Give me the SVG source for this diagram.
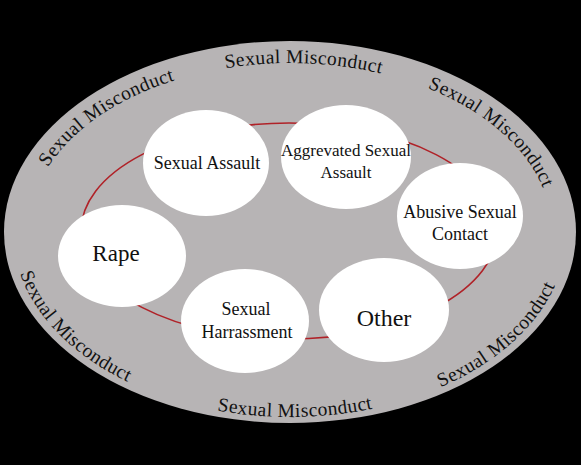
<svg xmlns="http://www.w3.org/2000/svg" width="581" height="465" viewBox="0 0 581 465">
  <style>
    .node { fill: #ffffff; }
    .lbl { font-family: "Liberation Serif", "DejaVu Serif", serif; fill: #111; text-anchor: middle; }
    .arc { font-family: "Liberation Serif", "DejaVu Serif", serif; fill: #111; font-size: 19.5px; letter-spacing: 0.4px; text-anchor: middle; }
  </style>
  <defs>
    <path id="upper" d="M28,232 A262,169 0 0 1 552,232"/>
    <path id="lower" d="M13,232 A277,185 0 0 0 567,232"/>
  </defs>
  <rect x="0" y="0" width="581" height="465" fill="#000000"/>
  <g id="outer">
    <ellipse cx="290" cy="232" rx="286" ry="191" fill="#b7b4b5"/>
    <text class="arc"><textPath href="#upper" startOffset="21.5%">Sexual Misconduct</textPath></text>
    <text class="arc"><textPath href="#upper" startOffset="52%">Sexual Misconduct</textPath></text>
    <text class="arc"><textPath href="#upper" startOffset="82%">Sexual Misconduct</textPath></text>
    <text class="arc"><textPath href="#lower" startOffset="16.5%">Sexual Misconduct</textPath></text>
    <text class="arc"><textPath href="#lower" startOffset="50.7%">Sexual Misconduct</textPath></text>
    <text class="arc"><textPath href="#lower" startOffset="81.8%">Sexual Misconduct</textPath></text>
  </g>
  <g id="connectors">
    <ellipse cx="289" cy="231" rx="208" ry="108" fill="none" stroke="#b02228" stroke-width="1.6"/>
  </g>
  <g id="sexual-assault">
    <ellipse class="node" cx="206" cy="163" rx="63" ry="53"/>
    <text class="lbl" x="207" y="169" font-size="18">Sexual Assault</text>
  </g>
  <g id="aggrevated-sexual-assault">
    <ellipse class="node" cx="346" cy="157" rx="65" ry="52"/>
    <text class="lbl" x="346" y="156" font-size="17">Aggrevated Sexual</text>
    <text class="lbl" x="346" y="178" font-size="17">Assault</text>
  </g>
  <g id="abusive-sexual-contact">
    <ellipse class="node" cx="460" cy="216" rx="63" ry="53"/>
    <text class="lbl" x="460" y="218" font-size="18">Abusive Sexual</text>
    <text class="lbl" x="460" y="240" font-size="18">Contact</text>
  </g>
  <g id="rape">
    <ellipse class="node" cx="122" cy="256" rx="64" ry="51"/>
    <text class="lbl" x="116" y="261" font-size="23">Rape</text>
  </g>
  <g id="sexual-harrassment">
    <ellipse class="node" cx="245" cy="321" rx="64" ry="52"/>
    <text class="lbl" x="246" y="315" font-size="18">Sexual</text>
    <text class="lbl" x="247" y="338" font-size="18">Harrassment</text>
  </g>
  <g id="other">
    <ellipse class="node" cx="384" cy="310" rx="65" ry="52"/>
    <text class="lbl" x="384" y="326" font-size="24">Other</text>
  </g>
</svg>
